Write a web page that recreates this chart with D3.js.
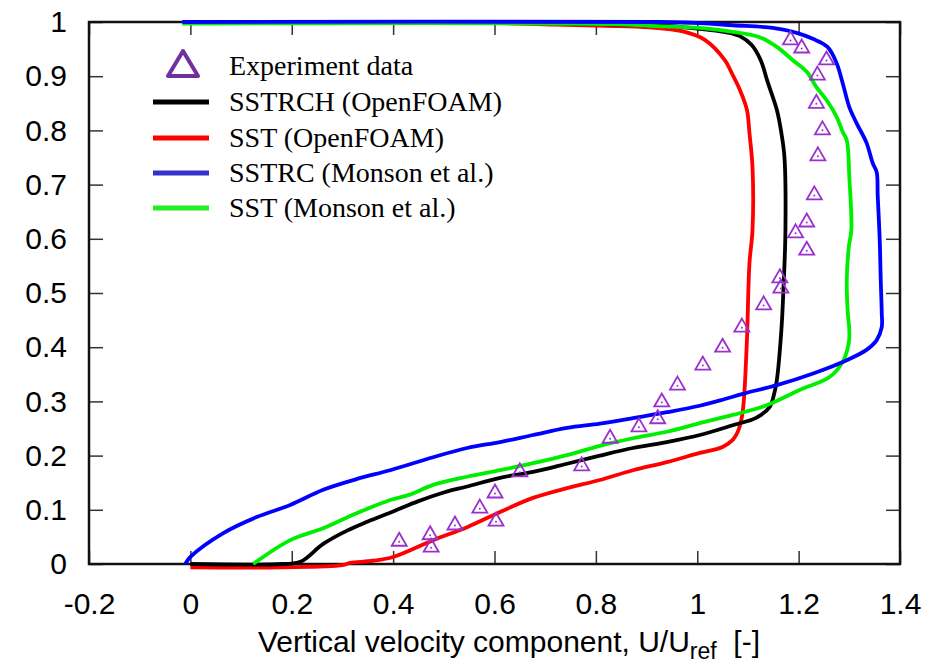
<!DOCTYPE html>
<html>
<head>
<meta charset="utf-8">
<script src="https://cdn.jsdelivr.net/npm/d3@7"></script>
<style>
  body { margin: 0; background: #fff; }
  svg { display: block; }
</style>
</head>
<body>
<div id="chart"></div>
<script>
// velocity profile: U/Uref (x) against normalised height (y)

const xTicks = [-0.2, 0, 0.2, 0.4, 0.6, 0.8, 1, 1.2, 1.4];
const yTicks = [0, 0.1, 0.2, 0.3, 0.4, 0.5, 0.6, 0.7, 0.8, 0.9, 1];

const legendLabels = ["Experiment data", "SSTRCH (OpenFOAM)", "SST (OpenFOAM)", "SSTRC (Monson et al.)", "SST (Monson et al.)"];

// experiment points [u, y]
const experiment = [
  [0.412, 0.042], [0.473, 0.054], [0.475, 0.031], [0.522, 0.072], [0.571, 0.103],
  [0.601, 0.131], [0.603, 0.079], [0.650, 0.170], [0.772, 0.181], [0.828, 0.232],
  [0.885, 0.253], [0.922, 0.268], [0.930, 0.299], [0.961, 0.330], [1.011, 0.367],
  [1.050, 0.400], [1.088, 0.437], [1.131, 0.478], [1.163, 0.528], [1.165, 0.509],
  [1.194, 0.611], [1.216, 0.631], [1.216, 0.579], [1.231, 0.681], [1.238, 0.753],
  [1.247, 0.801], [1.235, 0.850], [1.237, 0.902], [1.255, 0.930], [1.206, 0.952],
  [1.184, 0.967]
];

const sstrchOpenfoam = [
  [0, 0], [0.181, 0], [0.217, 0.004], [0.262, 0.037], [0.31, 0.062], [0.349, 0.078],
  [0.40, 0.097], [0.45, 0.116], [0.50, 0.132], [0.546, 0.143], [0.611, 0.159],
  [0.676, 0.170], [0.743, 0.185], [0.808, 0.200], [0.873, 0.214], [0.940, 0.225],
  [1.005, 0.238], [1.070, 0.256], [1.117, 0.270], [1.143, 0.290], [1.152, 0.315],
  [1.157, 0.339], [1.166, 0.432], [1.170, 0.506], [1.174, 0.616], [1.172, 0.751],
  [1.166, 0.795], [1.157, 0.838], [1.139, 0.889], [1.125, 0.930], [1.107, 0.958],
  [1.084, 0.974], [1.058, 0.981], [1.019, 0.986], [0.94, 0.993], [0.81, 0.996],
  [0.70, 0.998], [0, 1]
];

const sstOpenfoam = [
  [0, -0.006], [0.18, -0.006], [0.30, -0.002], [0.315, 0.002], [0.36, 0.006],
  [0.400, 0.013], [0.479, 0.044], [0.546, 0.068], [0.611, 0.096], [0.676, 0.122],
  [0.743, 0.140], [0.808, 0.155], [0.873, 0.173], [0.940, 0.188], [1.005, 0.205],
  [1.050, 0.216], [1.070, 0.229], [1.080, 0.244], [1.088, 0.271], [1.092, 0.303],
  [1.098, 0.413], [1.103, 0.555], [1.109, 0.616], [1.109, 0.732], [1.103, 0.795],
  [1.098, 0.838], [1.084, 0.875], [1.070, 0.902], [1.054, 0.930], [1.015, 0.967],
  [0.970, 0.983], [0.906, 0.990], [0.82, 0.993], [0.72, 0.995], [0.55, 0.999], [0, 1]
];

const sstrcMonson = [
  [-0.01, 0], [0, 0.013], [0.065, 0.057], [0.132, 0.087], [0.197, 0.109],
  [0.262, 0.137], [0.329, 0.157], [0.394, 0.173], [0.479, 0.197], [0.546, 0.214],
  [0.611, 0.225], [0.676, 0.238], [0.743, 0.251], [0.808, 0.259], [0.873, 0.269],
  [0.940, 0.280], [1.005, 0.292], [1.050, 0.303], [1.090, 0.314], [1.157, 0.330],
  [1.230, 0.352], [1.295, 0.376], [1.334, 0.395], [1.354, 0.413], [1.364, 0.437],
  [1.364, 0.463], [1.362, 0.524], [1.360, 0.598], [1.356, 0.680], [1.354, 0.723],
  [1.346, 0.740], [1.334, 0.777], [1.314, 0.814], [1.300, 0.843], [1.287, 0.887],
  [1.275, 0.924], [1.257, 0.954], [1.228, 0.969], [1.196, 0.980], [1.149, 0.989],
  [1.070, 0.994], [1.005, 0.998], [0.926, 1.0], [-0.016, 1.0]
];

const sstMonson = [
  [0.124, 0], [0.197, 0.044], [0.262, 0.066], [0.329, 0.094], [0.394, 0.118],
  [0.433, 0.128], [0.479, 0.146], [0.546, 0.161], [0.611, 0.173], [0.676, 0.186],
  [0.743, 0.201], [0.808, 0.218], [0.873, 0.232], [0.940, 0.244], [1.005, 0.260],
  [1.070, 0.275], [1.137, 0.293], [1.202, 0.321], [1.261, 0.345], [1.287, 0.373],
  [1.299, 0.408], [1.300, 0.432], [1.297, 0.463], [1.295, 0.524], [1.299, 0.585],
  [1.304, 0.616], [1.300, 0.714], [1.295, 0.782], [1.287, 0.797], [1.275, 0.825],
  [1.255, 0.856], [1.235, 0.880], [1.216, 0.908], [1.188, 0.930], [1.157, 0.954],
  [1.123, 0.972], [1.070, 0.982], [1.005, 0.989], [0.906, 0.993], [0.833, 0.996],
  [-0.016, 0.997]
];

const width = 940, height = 668;
const plot = { left: 89, right: 900, top: 22, bottom: 564 };

const svg = d3.select("#chart").append("svg")
  .attr("width", width)
  .attr("height", height)
  .style("background", "#fff");

const x = d3.scaleLinear().domain([-0.2, 1.4]).range([plot.left, plot.right]);
const y = d3.scaleLinear().domain([0, 1]).range([plot.bottom, plot.top]);

// plain hyphen for negatives, like the original
const fmt = d => String(d);

// ticks on all four sides, pointing inward
function styleAxis(g) {
  g.attr("font-family", "'Liberation Sans', Arial, sans-serif")
   .attr("font-size", 30);
  g.select(".domain").remove();
  g.selectAll(".tick line").attr("stroke", "#333").attr("stroke-width", 1.5);
  g.selectAll(".tick text").attr("fill", "#000");
}

svg.append("g")
  .attr("transform", `translate(0,${plot.bottom})`)
  .call(d3.axisBottom(x).tickValues(xTicks).tickSize(-13).tickPadding(29).tickFormat(fmt))
  .call(styleAxis);

svg.append("g")
  .attr("transform", `translate(${plot.left},0)`)
  .call(d3.axisLeft(y).tickValues(yTicks).tickSize(-14).tickPadding(22).tickFormat(fmt))
  .call(styleAxis);

svg.append("g")
  .attr("transform", `translate(0,${plot.top})`)
  .call(d3.axisTop(x).tickValues(xTicks).tickSize(-13).tickFormat(""))
  .call(styleAxis);

svg.append("g")
  .attr("transform", `translate(${plot.right},0)`)
  .call(d3.axisRight(y).tickValues(yTicks).tickSize(-14).tickFormat(""))
  .call(styleAxis);

// plot border
svg.append("rect")
  .attr("x", plot.left)
  .attr("y", plot.top)
  .attr("width", plot.right - plot.left)
  .attr("height", plot.bottom - plot.top)
  .attr("fill", "none")
  .attr("stroke", "#111")
  .attr("stroke-width", 2.5);

// model curves
const line = d3.line()
  .x(d => x(d[0]))
  .y(d => y(d[1]))
  .curve(d3.curveCatmullRom.alpha(0.5));

const series = [
  { data: sstOpenfoam, color: "#ff0000" },
  { data: sstrchOpenfoam, color: "#000000" },
  { data: sstMonson, color: "#00ee00" },
  { data: sstrcMonson, color: "#0000ff" }
];

svg.selectAll("path.curve")
  .data(series)
  .enter()
  .append("path")
    .attr("class", "curve")
    .attr("d", d => line(d.data))
    .attr("fill", "none")
    .attr("stroke", d => d.color)
    .attr("stroke-width", 3.8)
    .attr("stroke-linejoin", "round");

// experiment triangles, dot in the middle
const tri = "M0,-8.5L7.5,4.5L-7.5,4.5Z";
const pts = svg.selectAll("g.exp")
  .data(experiment)
  .enter()
  .append("g")
    .attr("class", "exp")
    .attr("transform", d => `translate(${x(d[0])},${y(d[1])})`);
pts.append("path")
  .attr("d", tri)
  .attr("fill", "none")
  .attr("stroke", "#9b30d0")
  .attr("stroke-width", 1.8);
pts.append("circle")
  .attr("r", 1)
  .attr("cy", 0.5)
  .attr("fill", "#9b30d0");

// legend
const legendX = 229;
const legendRowY = [66, 102, 138, 173, 208];
const legendColors = [null, "#000000", "#ff0000", "#3333cc", "#22ee22"];

const legend = svg.append("g");
legendLabels.forEach((label, i) => {
  const cy = legendRowY[i];
  if (i === 0) {
    legend.append("path")
      .attr("d", "M183,51L198,76L168,76Z")
      .attr("fill", "none")
      .attr("stroke", "#7030a0")
      .attr("stroke-width", 4)
      .attr("stroke-linejoin", "round");
  } else {
    legend.append("line")
      .attr("x1", 153).attr("x2", 209)
      .attr("y1", cy).attr("y2", cy)
      .attr("stroke", legendColors[i])
      .attr("stroke-width", 5);
  }
  legend.append("text")
    .attr("x", legendX)
    .attr("y", cy + 9)
    .attr("font-family", "'Liberation Serif', 'Times New Roman', serif")
    .attr("font-size", 28)
    .attr("fill", "#000")
    .text(label);
});

// x axis title with subscript
const title = svg.append("text")
  .attr("x", 258)
  .attr("y", 652)
  .attr("font-family", "'Liberation Sans', Arial, sans-serif")
  .attr("font-size", 30)
  .attr("fill", "#000")
  .attr("xml:space", "preserve");
title.append("tspan").text("Vertical velocity component, U/U");
title.append("tspan").attr("dy", 7).attr("font-size", 23).text("ref");
title.append("tspan").attr("dy", -7).text("  [-]");
</script>
</body>
</html>
